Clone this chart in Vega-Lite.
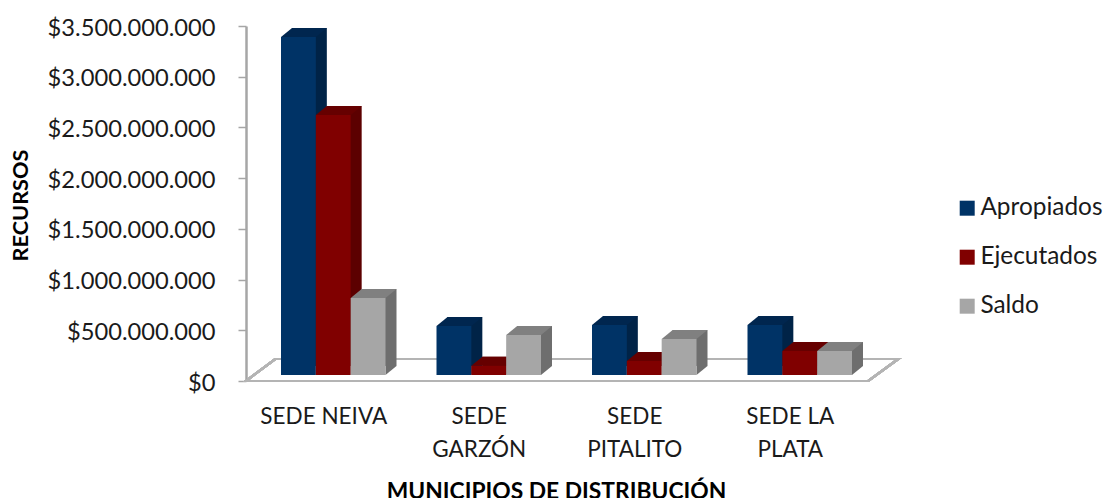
{
"$schema":"https://vega.github.io/schema/vega-lite/v6.json",
"width":622,"height":355,"autosize":"none",
"padding":{"left":246,"top":26,"right":238,"bottom":117},
"background":"white",
"data":{"values":[
{"sede":"SEDE NEIVA","serie":"Apropiados","valor":3333000000},
{"sede":"SEDE NEIVA","serie":"Ejecutados","valor":2564000000},
{"sede":"SEDE NEIVA","serie":"Saldo","valor":760000000},
{"sede":"SEDE GARZÓN","serie":"Apropiados","valor":483000000},
{"sede":"SEDE GARZÓN","serie":"Ejecutados","valor":90000000},
{"sede":"SEDE GARZÓN","serie":"Saldo","valor":394000000},
{"sede":"SEDE PITALITO","serie":"Apropiados","valor":493000000},
{"sede":"SEDE PITALITO","serie":"Ejecutados","valor":138000000},
{"sede":"SEDE PITALITO","serie":"Saldo","valor":355000000},
{"sede":"SEDE LA PLATA","serie":"Apropiados","valor":493000000},
{"sede":"SEDE LA PLATA","serie":"Ejecutados","valor":237000000},
{"sede":"SEDE LA PLATA","serie":"Saldo","valor":237000000}
]},
"encoding":{
"x":{"field":"sede","type":"nominal","sort":null,"title":"MUNICIPIOS DE DISTRIBUCIÓN",
"scale":{"type":"band","domain":["SEDE NEIVA","SEDE GARZÓN","SEDE PITALITO","SEDE LA PLATA"],"range":[9.5,631.5],"paddingInner":0.328,"paddingOuter":0.164},
"axis":{"domain":false,"ticks":false,"labelAngle":0,"labelOffset":-9.5,"labelFont":"Lato","labelFontSize":22.5,"labelColor":"#1a1a1a","labelPadding":24,"labelLineHeight":33,"labelLimit":300,
    "labelExpr":"datum.label=='SEDE NEIVA'?datum.label:datum.label=='SEDE GARZÓN'?['SEDE','GARZÓN']:datum.label=='SEDE PITALITO'?['SEDE','PITALITO']:['SEDE LA','PLATA']",
    "titleFont":"Lato","titleFontSize":22.8,"titleFontWeight":"bold","titleColor":"#000000","titleX":310,"titleY":110,"titleBaseline":"middle"}},
"y":{"field":"valor","type":"quantitative","title":"RECURSOS",
"scale":{"domain":[0,3500000000],"nice":false,"zero":true},
"axis":{"values":[0,500000000,1000000000,1500000000,2000000000,2500000000,3000000000,3500000000],"grid":false,"domain":true,"domainColor":"#A6A6A6","domainWidth":2.5,"tickColor":"#A6A6A6","tickSize":8,"tickWidth":1.5,"labelFont":"Lato","labelFontSize":23.7,"labelColor":"#1a1a1a","labelPadding":23,"labelOffset":2,
    "labelExpr":"'$'+replace(format(datum.value,','),regexp(',','g'),'.')",
    "titleFont":"Lato","titleFontSize":21.7,"titleFontWeight":"bold","titleColor":"#000000","titleX":-226,"titleY":179,"titleBaseline":"middle"}}
},
"layer":[
{"mark":{"type":"point","shape":"M-87.25 0 L-58 -22 L565 -22 L535 0 Z","size":4,"filled":false,"stroke":"#B4B4B4","strokeWidth":2.2,"opacity":1},
 "encoding":{"x":{"datum":"SEDE NEIVA"},"y":{"datum":0}}},
{"mark":{"type":"bar","yOffset":-15,"y2Offset":-15},
 "encoding":{
  "xOffset":{"field":"serie","type":"nominal","scale":{"type":"band","domain":["Apropiados","Ejecutados","Saldo"],"range":[11,115.5],"paddingInner":0,"paddingOuter":0}},
  "y2":{"datum":0},
  "color":{"field":"serie","type":"nominal","legend":null,"scale":{"domain":["Apropiados","Ejecutados","Saldo"],"range":["#002347","#5C0000","#6E6E6E"]}}}},
{"mark":{"type":"point","shape":"M17.4 -6 L17.4 -15 L28.4 -15 Z","size":4,"filled":true,"opacity":1},
 "encoding":{
  "y":{"datum":0},
  "xOffset":{"field":"serie","type":"nominal","scale":{"type":"band","domain":["Apropiados","Ejecutados","Saldo"],"range":[0,104.5],"paddingInner":0,"paddingOuter":0}},
  "color":{"field":"serie","type":"nominal","legend":null,"scale":{"domain":["Apropiados","Ejecutados","Saldo"],"range":["#002347","#5C0000","#6E6E6E"]}}}},
{"mark":{"type":"point","shape":"M-17.4 -6 L-6.4 -15 L28.4 -15 L17.4 -6 Z","size":4,"filled":true,"opacity":1},
 "encoding":{
  "xOffset":{"field":"serie","type":"nominal","scale":{"type":"band","domain":["Apropiados","Ejecutados","Saldo"],"range":[0,104.5],"paddingInner":0,"paddingOuter":0}},
  "color":{"field":"serie","type":"nominal","legend":null,"scale":{"domain":["Apropiados","Ejecutados","Saldo"],"range":["#00264F","#660000","#808080"]}}}},
{"mark":{"type":"bar","yOffset":-6,"y2Offset":-6},
 "encoding":{
  "y2":{"datum":0},
  "xOffset":{"field":"serie","type":"nominal","scale":{"type":"band","domain":["Apropiados","Ejecutados","Saldo"],"range":[0,104.5],"paddingInner":0,"paddingOuter":0}},
  "color":{"field":"serie","type":"nominal","scale":{"domain":["Apropiados","Ejecutados","Saldo"],"range":["#003366","#800000","#A6A6A6"]},
   "legend":{"title":null,"orient":"none","legendX":709,"legendY":170,"symbolType":"square","symbolSize":225,"symbolStrokeWidth":0,"labelFont":"Lato","labelFontSize":24.4,"labelColor":"#1a1a1a","labelOffset":1,"rowPadding":24,"labelLimit":200}}}}
],
"resolve":{"scale":{"color":"independent","xOffset":"independent"}},
"config":{"view":{"stroke":null}}
}
